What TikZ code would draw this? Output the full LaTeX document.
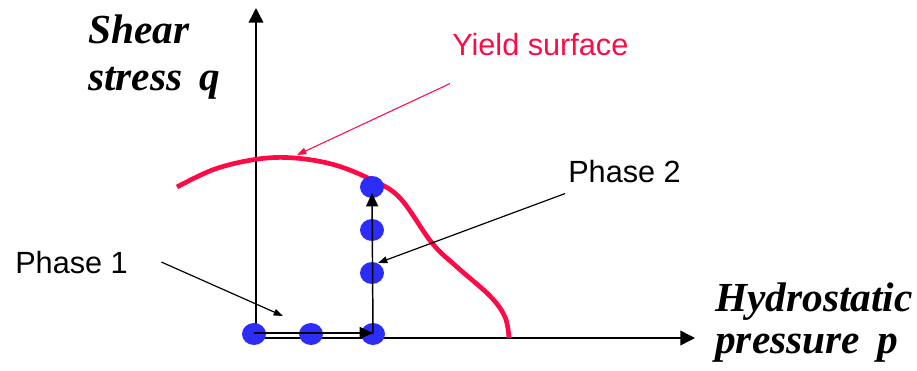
\documentclass[tikz,border=0pt]{standalone}
\usepackage{fontspec}
\setmainfont{Liberation Serif}
\newfontfamily\labelfont{Liberation Sans}
\usetikzlibrary{arrows.meta, shapes.geometric}
\definecolor{dot_blue}{RGB}{45, 45, 250}
\definecolor{yield_red}{RGB}{255, 10, 70}

\tikzset{
    axis/.style={line width=1.1pt, -{Triangle[length=11pt, width=11pt]}},
    path_arrow/.style={line width=1.1pt, -{Triangle[length=10pt, width=9pt]}},
    pointer/.style={line width=0.9pt, -{Triangle[length=7pt, width=5pt]}},
    dot/.style={ellipse, fill=dot_blue, minimum width=18pt, minimum height=16.5pt, inner sep=0pt},
    phase_label/.style={font=\labelfont\fontsize{23}{27}\selectfont, inner sep=0pt, anchor=base west},
    axis_label/.style={font=\bfseries\itshape\fontsize{31}{35}\selectfont, inner sep=0pt, align=left, anchor=base west}
}

\begin{document}
\begin{tikzpicture}[x=0.75pt, y=-0.75pt]
    \useasboundingbox (0,0) rectangle (917,371);

    % Axes
    \coordinate (O) at (256,338);
    \coordinate (q_end) at (256,8);
    \coordinate (p_end) at (695,338);
    \draw[axis] (O) -- (q_end);
    \draw[axis] (O) -- (p_end);

    % Axis labels (base anchor sits on the last line)
    \node[axis_label] (q_lab) at (88,90) {Shear\\stress \,q};
    \node[axis_label, font=\bfseries\itshape\fontsize{31}{31}\selectfont] (p_lab) at (715,353) {Hydrostatic\\pressure \,p};

    % Yield surface
    \draw[yield_red, line width=3.5pt] plot[smooth, tension=0.6] coordinates {
        (177,187) (215,169) (258,159) (295,158) (335,165) (372,180) (400,198)
        (432,243) (457,267) (490,296) (505,317) (509,338)};
    \node[phase_label, text=yield_red] (y_lab) at (452,55) {Yield surface};
    \coordinate (y_tip) at (297,155);
    \draw[yield_red, line width=0.8pt, -{Triangle[length=7pt, width=5pt]}]
        ([shift={(-2,28)}]y_lab.south west) -- (y_tip);

    % Stress path points
    \foreach \n/\x/\y in {1/254/334, 2/311/334, 3/373/334, 4/372/273, 5/372/230, 6/372/187} {
        \node[dot] (d\n) at (\x,\y) {};
    }

    % Phase 1 and phase 2 paths
    \draw[path_arrow] ([yshift=0.75pt]d1.center) -- ([yshift=0.75pt]d3.center);
    \draw[path_arrow, shorten >=4.5pt] (d3.center) -- (d6.center);

    % Phase labels
    \node[phase_label] (p1) at (15,273) {Phase 1};
    \coordinate (p1_tip) at (283,316);
    \draw[pointer] ([xshift=25pt]p1.east) -- (p1_tip);

    \node[phase_label] (p2) at (568,182) {Phase 2};
    \coordinate (p2_tip) at (378,263);
    \draw[pointer] ([shift={(-3,11)}]p2.south west) -- (p2_tip);
\end{tikzpicture}
\end{document}
